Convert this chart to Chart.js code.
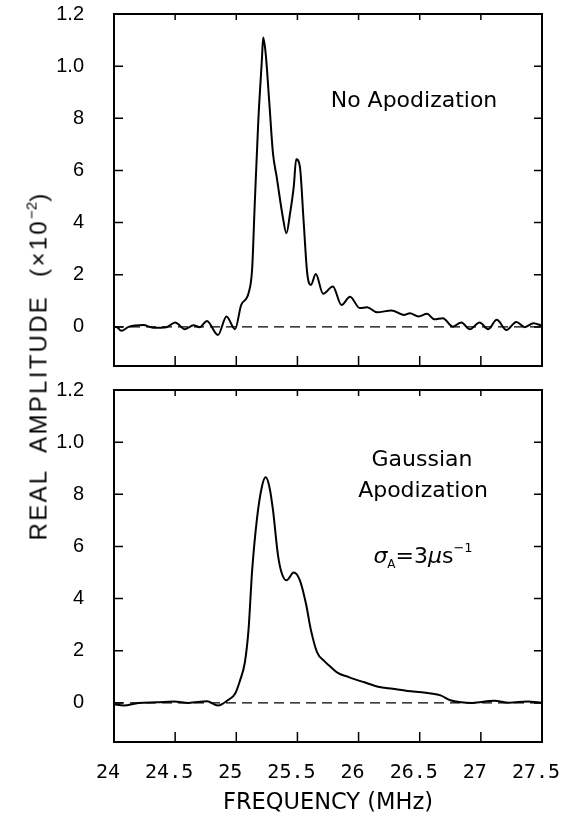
<!DOCTYPE html>
<html>
<head>
<meta charset="utf-8">
<script src="https://cdn.jsdelivr.net/npm/chart.js@4.4.0/dist/chart.umd.min.js"></script>
<style>
  body { margin: 0; background: #fff; width: 571px; height: 827px; position: relative; overflow: hidden; }
  canvas { position: absolute; left: 0; }
  #topChart { top: 0; }
  #bottomChart { top: 376px; }
  .note { position: absolute; font-family: "DejaVu Sans"; font-size: 22px; color: #000; white-space: pre; line-height: 1; transform: translate(-50%, -50%); }
  .note sub { font-size: 12px; vertical-align: -5px; }
  .note sup { font-size: 13px; vertical-align: 11px; }
  #ytitle { position: absolute; left: 37px; top: 366px; transform: translate(-50%, -50%) rotate(-90deg); font-family: "Liberation Sans"; font-size: 24px; letter-spacing: 2.3px; white-space: pre; line-height: 1; }
  #ytitle sup { font-size: 15px; vertical-align: 10px; letter-spacing: 0; }
</style>
</head>
<body>
<canvas id="topChart" width="571" height="376"></canvas>
<canvas id="bottomChart" width="571" height="451"></canvas>
<div id="ytitle">REAL  AMPLITUDE  (×10<sup>−2</sup>)</div>
<div class="note" style="left:414px; top:100px;">No Apodization</div>
<div class="note" style="left:422px; top:459px;">Gaussian</div>
<div class="note" style="left:423px; top:490px;">Apodization</div>
<div class="note" style="left:423px; top:555px;"><i>σ</i><sub>A</sub>=3<i>μ</i>s<sup>−1</sup></div>
<script>
// axis ticks
const xTicks = [24, 24.5, 25, 25.5, 26, 26.5, 27, 27.5];
const yTicks = [0, 2, 4, 6, 8, 10, 12];
const yTickLabels = ["0", "2", "4", "6", "8", "1.0", "1.2"];

// top panel: no apodization
const topFreq = [24.00, 24.02, 24.06, 24.12, 24.24, 24.32, 24.43, 24.50, 24.58, 24.65, 24.70, 24.76, 24.85, 24.92, 24.99,
  25.04, 25.10, 25.13, 25.15, 25.18, 25.21, 25.22, 25.24, 25.27, 25.30, 25.33, 25.38, 25.41, 25.44, 25.47, 25.49, 25.52,
  25.55, 25.58, 25.61, 25.65, 25.71, 25.79, 25.86, 25.93, 26.01, 26.07, 26.15, 26.27, 26.37, 26.42, 26.49, 26.56, 26.62,
  26.69, 26.77, 26.84, 26.91, 26.99, 27.06, 27.13, 27.21, 27.29, 27.36, 27.43, 27.50];
const topAmp = [0.0, 0.0, -0.15, 0.0, 0.07, -0.03, -0.01, 0.17, -0.09, 0.06, -0.01, 0.23, -0.31, 0.40, -0.09,
  0.84, 1.29, 2.25, 4.6, 7.9, 10.3, 11.1, 10.5, 8.6, 6.66, 5.76, 4.23, 3.59, 4.36, 5.38, 6.43, 6.15,
  4.1, 2.06, 1.61, 2.03, 1.27, 1.55, 0.84, 1.16, 0.72, 0.75, 0.56, 0.63, 0.46, 0.52, 0.40, 0.50, 0.29,
  0.33, 0.01, 0.17, -0.09, 0.17, -0.09, 0.27, -0.12, 0.19, -0.01, 0.14, 0.04];

// bottom panel: gaussian apodization
const botFreq = [24.00, 24.08, 24.20, 24.35, 24.49, 24.61, 24.76, 24.85, 24.93, 24.99, 25.03, 25.07, 25.10, 25.13,
  25.17, 25.21, 25.24, 25.27, 25.30, 25.34, 25.37, 25.41, 25.47, 25.52, 25.57, 25.61, 25.66, 25.72, 25.77, 25.83,
  25.92, 26.04, 26.16, 26.28, 26.40, 26.55, 26.67, 26.75, 26.84, 26.93, 27.11, 27.23, 27.38, 27.50];
const botAmp = [-0.05, -0.1, 0.0, 0.02, 0.05, 0.0, 0.06, -0.1, 0.1, 0.35, 0.85, 1.55, 2.8, 5.1,
  7.1, 8.3, 8.65, 8.3, 7.4, 5.7, 5.0, 4.7, 5.0, 4.7, 3.8, 2.8, 1.95, 1.6, 1.39, 1.15,
  0.99, 0.8, 0.62, 0.54, 0.46, 0.39, 0.29, 0.1, 0.02, 0.0, 0.08, 0.01, 0.05, 0.0];

const zeroLine = [0, 0];
const zeroFreq = [24, 27.5];

// box with inward ticks on all four sides
const frameTicks = {
  id: "frameTicks",
  afterDraw(chart) {
    const { ctx, chartArea: a, scales: { x, y } } = chart;
    ctx.save();
    ctx.strokeStyle = "#000";
    ctx.lineWidth = 1.5;
    ctx.beginPath();
    xTicks.forEach(v => {
      const px = x.getPixelForValue(v);
      ctx.moveTo(px, a.bottom); ctx.lineTo(px, a.bottom - 10);
      ctx.moveTo(px, a.top); ctx.lineTo(px, a.top + 6);
    });
    yTicks.forEach(v => {
      const py = y.getPixelForValue(v);
      ctx.moveTo(a.left, py); ctx.lineTo(a.left + 9, py);
      ctx.moveTo(a.right, py); ctx.lineTo(a.right - 8, py);
    });
    ctx.stroke();
    ctx.lineWidth = 2;
    ctx.strokeRect(a.left, a.top, a.right - a.left, a.bottom - a.top);
    ctx.restore();
  }
};

function makePanel(id, freq, amp, showX, xHeight) {
  const ctx = document.getElementById(id).getContext("2d");
  return new Chart(ctx, {
    type: "line",
    data: {
      datasets: [
        {
          data: freq.map((f, i) => ({ x: f, y: amp[i] })),
          borderColor: "#000",
          borderWidth: 2,
          pointRadius: 0,
          cubicInterpolationMode: "monotone"
        },
        {
          data: zeroFreq.map((f, i) => ({ x: f, y: zeroLine[i] })),
          borderColor: "#000",
          borderWidth: 1.2,
          borderDash: [10, 6],
          pointRadius: 0
        }
      ]
    },
    options: {
      responsive: false,
      animation: false,
      devicePixelRatio: 1,
      layout: { padding: { left: 0, right: 29, top: 14, bottom: 0 } },
      plugins: { legend: { display: false }, tooltip: { enabled: false } },
      scales: {
        x: {
          type: "linear",
          min: 24,
          max: 27.5,
          afterBuildTicks: s => { s.ticks = xTicks.map(v => ({ value: v })); },
          afterFit: s => { s.height = xHeight; s.paddingLeft = 0; s.paddingRight = 0; },
          grid: { display: false },
          border: { display: false },
          ticks: {
            display: showX,
            autoSkip: false,
            maxRotation: 0,
            padding: 11,
            labelOffset: -6,
            color: "#000",
            font: { family: "DejaVu Sans Mono", size: 20 },
            callback: v => String(v)
          },
          title: {
            display: showX,
            text: "FREQUENCY (MHz)",
            color: "#000",
            font: { family: "DejaVu Sans", size: 22.5 },
            padding: { top: 0, bottom: 10 }
          }
        },
        y: {
          min: -1.5,
          max: 12,
          afterBuildTicks: s => { s.ticks = yTicks.map(v => ({ value: v })); },
          afterFit: s => { s.width = 114; s.paddingTop = 0; s.paddingBottom = 0; },
          grid: { display: false },
          border: { display: false },
          ticks: {
            padding: 22,
            color: "#000",
            font: { family: "Liberation Sans", size: 20 },
            callback: v => yTickLabels[yTicks.indexOf(v)]
          }
        }
      }
    },
    plugins: [frameTicks]
  });
}

makePanel("topChart", topFreq, topAmp, false, 10);
makePanel("bottomChart", botFreq, botAmp, true, 85);
</script>
</body>
</html>
